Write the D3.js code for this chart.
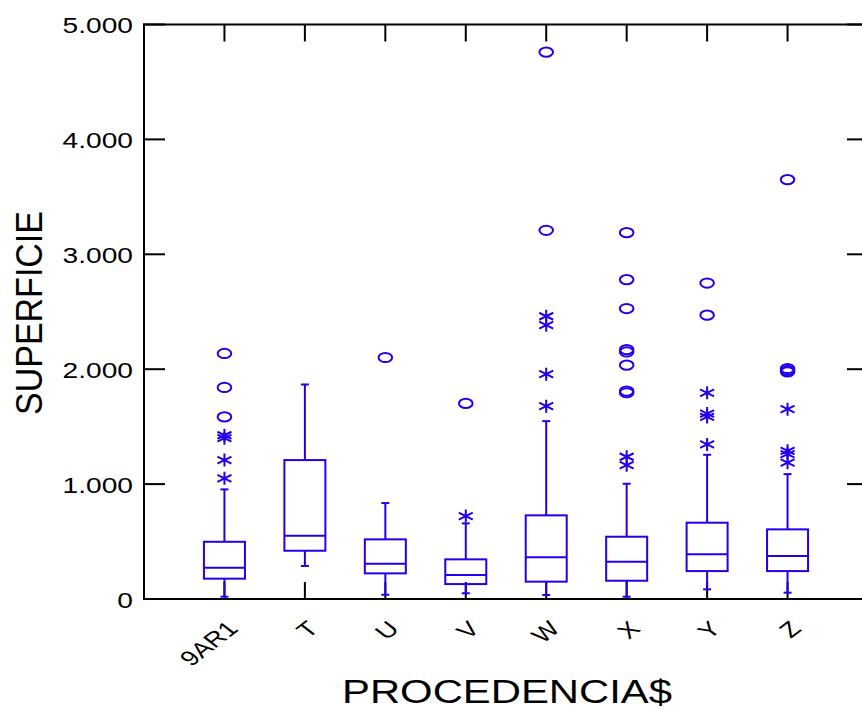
<!DOCTYPE html>
<html>
<head>
<meta charset="utf-8">
<script src="https://cdn.jsdelivr.net/npm/d3@7"></script>
<style>
  body { margin: 0; background: #fff; }
  text { font-family: "Liberation Sans", Arial, sans-serif; fill: #000; }
</style>
</head>
<body>
<div id="chart"></div>
<script>
// category labels and box statistics
var categories = ["9AR1", "T", "U", "V", "W", "X", "Y", "Z"];
var whiskerLow = [20, 287, 37, 50, 35, 20, 84, 55];
var q1 = [177, 420, 223, 130, 151, 159, 243, 243];
var median = [272, 550, 307, 209, 363, 324, 389, 374];
var q3 = [498, 1209, 519, 345, 728, 542, 664, 606];
var whiskerHigh = [954, 1867, 835, 658, 1548, 1003, 1255, 1087];
// outside values (asterisks) and far outside values (circles)
var nearOut = [
  [1050, 1209, 1400, 1425],
  [],
  [],
  [722],
  [1678, 1957, 2383, 2461],
  [1165, 1238],
  [1345, 1585, 1614, 1794],
  [1186, 1261, 1290, 1652]
];
var farOut = [
  [1585, 1841, 2137],
  [],
  [2102],
  [1702],
  [3209, 4759],
  [1795, 1810, 2035, 2150, 2170, 2528, 2780, 3188],
  [2470, 2750],
  [1977, 1990, 2006, 3650]
];
var yTicks = [0, 1000, 2000, 3000, 4000, 5000];
var yTickLabels = ["0", "1.000", "2.000", "3.000", "4.000", "5.000"];

var svgWidth = 862;
var svgHeight = 709;
var blue = "#2200ee";

var plot = { left: 144, right: 868, top: 24.5, bottom: 599 };

var svg = d3.select("#chart")
  .append("svg")
  .attr("width", svgWidth)
  .attr("height", svgHeight);

var x = d3.scalePoint()
  .domain(categories)
  .range([plot.left, plot.right])
  .padding(1);

var y = d3.scaleLinear()
  .domain([0, 5000])
  .range([plot.bottom, plot.top]);

var data = categories.map(function(c, i) {
  return {
    cat: c, lo: whiskerLow[i], q1: q1[i], med: median[i], q3: q3[i], hi: whiskerHigh[i],
    near: nearOut[i], far: farOut[i]
  };
});

// frame + ticks
var frame = svg.append("g").attr("stroke", "#000").attr("stroke-width", 2);
frame.append("line").attr("x1", plot.left).attr("x2", plot.left).attr("y1", plot.top - 1).attr("y2", plot.bottom + 1);
frame.append("line").attr("x1", plot.right).attr("x2", plot.right).attr("y1", plot.top - 1).attr("y2", plot.bottom + 1);
frame.append("line").attr("x1", plot.left - 1).attr("x2", plot.right).attr("y1", plot.top).attr("y2", plot.top);
frame.append("line").attr("x1", plot.left - 1).attr("x2", plot.right).attr("y1", plot.bottom).attr("y2", plot.bottom);

yTicks.forEach(function(t) {
  frame.append("line").attr("x1", plot.left).attr("x2", plot.left + 21).attr("y1", y(t)).attr("y2", y(t));
  frame.append("line").attr("x1", plot.right - 21).attr("x2", plot.right).attr("y1", y(t)).attr("y2", y(t));
});
categories.forEach(function(c) {
  frame.append("line").attr("x1", x(c)).attr("x2", x(c)).attr("y1", plot.top).attr("y2", plot.top + 17);
  frame.append("line").attr("x1", x(c)).attr("x2", x(c)).attr("y1", plot.bottom).attr("y2", plot.bottom - 17);
});

// y tick labels
svg.append("g").selectAll("text")
  .data(yTicks)
  .enter()
  .append("text")
  .attr("transform", (d, i) => `translate(133, ${y(d) + 8.5}) scale(1.28, 1)`)
  .attr("text-anchor", "end")
  .attr("font-size", 22)
  .text((d, i) => yTickLabels[i]);

// x tick labels, slanted
svg.append("g").selectAll("text")
  .data(categories)
  .enter()
  .append("text")
  .attr("transform", d => `translate(${x(d) + 15}, 630) scale(1.3, 1) rotate(-45)`)
  .attr("text-anchor", "end")
  .attr("font-size", 21)
  .text(d => d);

// axis titles
svg.append("text")
  .attr("transform", "translate(42, 313) scale(1.08, 1) rotate(-90)")
  .attr("text-anchor", "middle")
  .attr("font-size", 34)
  .text("SUPERFICIE");

svg.append("text")
  .attr("transform", "translate(507, 703) scale(1.23, 1)")
  .attr("text-anchor", "middle")
  .attr("font-size", 34)
  .text("PROCEDENCIA$");

// boxes
var boxW = 41;
var capW = 8;
var boxes = svg.append("g")
  .attr("stroke", blue)
  .attr("stroke-width", 2)
  .attr("fill", "none");

var g = boxes.selectAll("g.box")
  .data(data)
  .enter()
  .append("g")
  .attr("class", "box");

g.append("rect")
  .attr("x", d => x(d.cat) - boxW / 2)
  .attr("y", d => y(d.q3))
  .attr("width", boxW)
  .attr("height", d => y(d.q1) - y(d.q3));

g.append("line")
  .attr("x1", d => x(d.cat) - boxW / 2).attr("x2", d => x(d.cat) + boxW / 2)
  .attr("y1", d => y(d.med)).attr("y2", d => y(d.med));

// whiskers
g.append("line")
  .attr("x1", d => x(d.cat)).attr("x2", d => x(d.cat))
  .attr("y1", d => y(d.q3)).attr("y2", d => y(d.hi));
g.append("line")
  .attr("x1", d => x(d.cat)).attr("x2", d => x(d.cat))
  .attr("y1", d => y(d.q1)).attr("y2", d => y(d.lo));
g.append("line")
  .attr("x1", d => x(d.cat) - capW / 2).attr("x2", d => x(d.cat) + capW / 2)
  .attr("y1", d => y(d.hi)).attr("y2", d => y(d.hi));
g.append("line")
  .attr("x1", d => x(d.cat) - capW / 2).attr("x2", d => x(d.cat) + capW / 2)
  .attr("y1", d => y(d.lo)).attr("y2", d => y(d.lo));

// asterisks
var nearPts = [];
data.forEach(d => d.near.forEach(v => nearPts.push({ cat: d.cat, v: v })));
var farPts = [];
data.forEach(d => d.far.forEach(v => farPts.push({ cat: d.cat, v: v })));

boxes.selectAll("path.star")
  .data(nearPts)
  .enter()
  .append("path")
  .attr("class", "star")
  .attr("transform", d => `translate(${x(d.cat)}, ${y(d.v)})`)
  .attr("d", "M0,-6.5V6.5M-7,-3.5L7,3.5M-7,3.5L7,-3.5");

// circles
boxes.selectAll("ellipse")
  .data(farPts)
  .enter()
  .append("ellipse")
  .attr("cx", d => x(d.cat))
  .attr("cy", d => y(d.v))
  .attr("rx", 6.8)
  .attr("ry", 4.6);
</script>
</body>
</html>
